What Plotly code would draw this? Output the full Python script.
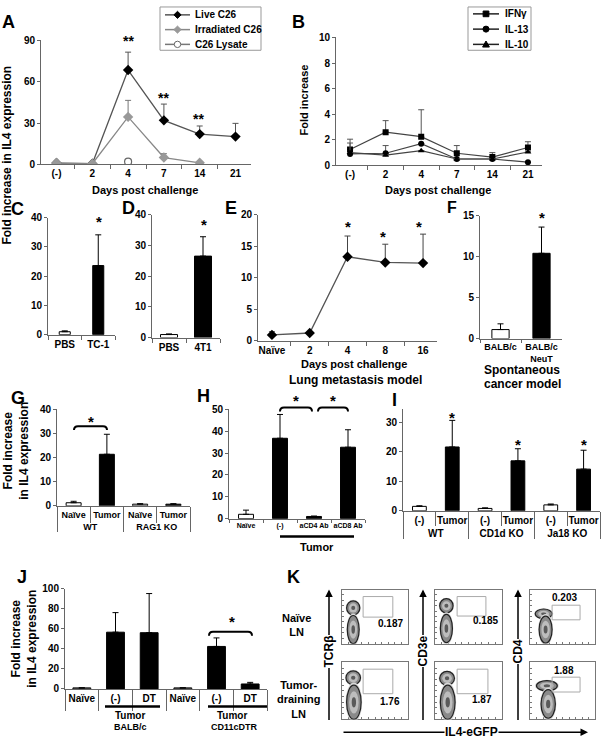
import plotly.graph_objects as go

W, H = 606, 750

# ---------------- DATA ----------------
A_days = ["(-)", "2", "4", "7", "14", "21"]
A_live = [1.0, 0.5, 68.5, 32.0, 22.0, 20.2]
A_live_err = [0, 0, 13.0, 11.8, 5.9, 9.6]
A_irr = [1.0, 0.5, 34.5, 5.0, 1.2, None]
A_irr_err = [0, 0, 12.0, 2.8, 0, 0]
A_lys = [None, None, 2.0, None, None, None]
A_series = ["Live C26", "Irradiated C26", "C26 Lysate"]

B_days = ["(-)", "2", "4", "7", "14", "21"]
B_ifng = [1.25, 2.6, 2.25, 0.95, 0.65, 1.4]
B_ifng_err = [0.8, 0.9, 2.1, 0.6, 0.35, 0.45]
B_il13 = [0.9, 0.95, 1.7, 0.5, 0.5, 0.25]
B_il13_err = [0.85, 0.6, 0.0, 0.0, 0.0, 0.0]
B_il10 = [1.0, 0.8, 1.15, 0.5, 0.5, 1.05]
B_il10_err = [0.0, 0.0, 0.0, 0.0, 0.0, 0.0]
B_series = ["IFNγ", "IL-13", "IL-10"]

C_groups = ["PBS", "TC-1"]
C_vals = [1.0, 23.6]
C_err = [0.3, 10.5]

D_groups = ["PBS", "4T1"]
D_vals = [1.0, 26.5]
D_err = [0.2, 6.3]

E_days = ["Naïve", "2", "4", "8", "16"]
E_vals = [0.9, 1.2, 13.3, 12.4, 12.3]
E_err = [0.5, 0.1, 3.3, 2.9, 4.6]

F_groups = ["BALB/c", "BALB/c<br>NeuT"]
F_vals = [1.1, 10.4]
F_err = [0.7, 3.2]

G_strain = ["WT", "WT", "RAG1 KO", "RAG1 KO"]
G_cond = ["Naïve", "Tumor", "Naïve", "Tumor"]
G_vals = [1.3, 21.4, 0.7, 0.7]
G_err = [0.6, 8.3, 0.2, 0.2]

H_groups = ["Naïve", "(-)", "aCD4 Ab", "aCD8 Ab"]
H_vals = [2.0, 36.8, 1.0, 32.7]
H_err = [1.9, 10.9, 0.2, 8.0]

I_strain = ["WT", "WT", "CD1d KO", "CD1d KO", "Ja18 KO", "Ja18 KO"]
I_cond = ["(-)", "Tumor", "(-)", "Tumor", "(-)", "Tumor"]
I_vals = [1.5, 21.6, 0.8, 16.9, 2.0, 14.1]
I_err = [0.2, 9.0, 0.2, 4.1, 0.3, 6.4]

J_labels = ["Naïve", "(-)", "DT", "Naïve", "(-)", "DT"]
J_vals = [1.0, 56.5, 56.0, 1.0, 42.3, 4.9]
J_err = [0.0, 19.5, 39.0, 0.0, 8.5, 1.6]

K_rows = ["Naïve<br>LN", "Tumor-<br>draining<br>LN"]
K_markers = ["TCRβ", "CD3e", "CD4"]
K_pct = [["0.187", "0.185", "0.203"], ["1.76", "1.87", "1.88"]]

# ---------------- HELPERS ----------------
def X(px):
    return px / W

def Y(py):
    return 1 - py / H

def dx(a, b):
    return [X(a), X(b)]

def dy(top, bot):
    return [Y(bot), Y(top)]

FONT = "Liberation Sans, Arial, sans-serif"
TF = dict(family=FONT, size=10, color="black", weight="bold")
AX = "#666"

def xcat(dom, anchor, size=10, ticklen=4):
    return dict(domain=dom, anchor=anchor, type="category", tickson="boundaries",
                ticks="outside", ticklen=ticklen, tickcolor=AX, showline=True, linecolor=AX,
                showgrid=False, zeroline=False, tickfont=dict(TF, size=size), tickangle=0,
                fixedrange=True)

def ylin(dom, anchor, rng, dtick, show_labels=True):
    return dict(domain=dom, anchor=anchor, range=rng, dtick=dtick, tick0=0,
                ticks="outside", ticklen=3, tickcolor=AX, showline=True, linecolor=AX,
                showgrid=False, zeroline=False, tickfont=TF, showticklabels=show_labels,
                fixedrange=True)

def err(arr, color="black"):
    return dict(type="data", symmetric=False, array=arr, arrayminus=[0] * len(arr),
                color=color, thickness=1, width=3)

fig = go.Figure()
ann = []
shapes = []

def text(t, px, py, size=11, bold=True, angle=0, xanchor="center", yanchor="middle", bg=None):
    d = dict(text=("<b>%s</b>" % t) if bold else t, x=X(px), y=Y(py), xref="paper",
             yref="paper", showarrow=False, textangle=angle, xanchor=xanchor,
             yanchor=yanchor, font=dict(family=FONT, size=size, color="black"))
    if bg:
        d["bgcolor"] = bg
        d["borderpad"] = 0
    ann.append(d)

def star(t, px, py, size=15):
    text(t, px, py + 3, size=size)

def bracket(x0, x1, y, h=4):
    shapes.append(dict(type="path", xref="paper", yref="paper",
                       path="M %f,%f Q %f,%f %f,%f L %f,%f Q %f,%f %f,%f" % (
                           X(x0), Y(y + h), X(x0), Y(y), X(x0 + 4), Y(y),
                           X(x1 - 4), Y(y), X(x1), Y(y), X(x1), Y(y + h)),
                       line=dict(color="black", width=2)))

def hline(x0, x1, y, w=2, color="black"):
    shapes.append(dict(type="line", xref="paper", yref="paper", x0=X(x0), x1=X(x1),
                       y0=Y(y), y1=Y(y), line=dict(color=color, width=w)))

def rect(x0, y0, x1, y1, color="#999"):
    shapes.append(dict(type="rect", xref="paper", yref="paper", x0=X(x0), x1=X(x1),
                       y0=Y(y1), y1=Y(y0), line=dict(color=color, width=1),
                       fillcolor="white"))

def marker(kind, cx, cy, fill, edge, r=3.6):
    if kind == "diamond":
        p = "M %f,%f L %f,%f L %f,%f L %f,%f Z" % (X(cx), Y(cy - r), X(cx + r), Y(cy),
                                                   X(cx), Y(cy + r), X(cx - r), Y(cy))
        shapes.append(dict(type="path", xref="paper", yref="paper", path=p,
                           fillcolor=fill, line=dict(color=edge, width=1)))
    elif kind == "square":
        r = r * 0.85
        shapes.append(dict(type="rect", xref="paper", yref="paper", x0=X(cx - r), x1=X(cx + r),
                           y0=Y(cy + r), y1=Y(cy - r), fillcolor=fill, line=dict(color=edge, width=1)))
    elif kind == "circle":
        r = r * 0.9
        shapes.append(dict(type="circle", xref="paper", yref="paper", x0=X(cx - r), x1=X(cx + r),
                           y0=Y(cy + r), y1=Y(cy - r), fillcolor=fill, line=dict(color=edge, width=1)))
    elif kind == "triangle":
        p = "M %f,%f L %f,%f L %f,%f Z" % (X(cx), Y(cy - r), X(cx + r), Y(cy + r * 0.8),
                                           X(cx - r), Y(cy + r * 0.8))
        shapes.append(dict(type="path", xref="paper", yref="paper", path=p,
                           fillcolor=fill, line=dict(color=edge, width=1)))

layout = {}

# ---------------- PANEL A ----------------
fig.add_trace(go.Scatter(x=A_days, y=A_live, mode="lines+markers", name=A_series[0],
                         line=dict(color="#555", width=1.3),
                         marker=dict(symbol="diamond", size=8, color="black"),
                         error_y=err(A_live_err, "#555"), xaxis="x", yaxis="y", showlegend=False))
fig.add_trace(go.Scatter(x=A_days, y=A_irr, mode="lines+markers", name=A_series[1],
                         line=dict(color="#888", width=1.3),
                         marker=dict(symbol="diamond", size=8, color="#999"),
                         error_y=err(A_irr_err, "#777"), xaxis="x", yaxis="y", showlegend=False))
fig.add_trace(go.Scatter(x=A_days, y=A_lys, mode="lines+markers", name=A_series[2],
                         line=dict(color="#777", width=1.3),
                         marker=dict(symbol="circle", size=7, color="white",
                                     line=dict(color="#666", width=1.2)),
                         xaxis="x", yaxis="y", showlegend=False))
layout["xaxis"] = xcat(dx(41, 251), "y")
layout["yaxis"] = ylin(dy(35, 161), "x", [0, 90], 30)
text("Fold increase in IL4 expression", 7, 152, size=12, angle=-90)
text("Days post challenge", 145, 187, size=11)
text("A", 8, 16, size=18)
for xx, yy in [(128, 33), (163, 90), (198, 112)]:
    star("**", xx, yy, size=14)
rect(160, 1, 261, 45)
A_leg = [("diamond", "black", "black", "#555"), ("diamond", "#999", "#999", "#888"),
         ("circle", "white", "#666", "#777")]
for i, (kind, fill, edge, lc) in enumerate(A_leg):
    yy = 9 + 15 * i
    hline(165, 190, yy, 1.5, lc)
    marker(kind, 177.5, yy, fill, edge)
    text(A_series[i], 193, yy, size=10, xanchor="left")

# ---------------- PANEL B ----------------
B_sym = ["square", "circle", "triangle-up"]
for name, vals, e, sym in zip(B_series, [B_ifng, B_il13, B_il10],
                              [B_ifng_err, B_il13_err, B_il10_err], B_sym):
    fig.add_trace(go.Scatter(x=B_days, y=vals, mode="lines+markers", name=name,
                             line=dict(color="#444", width=1.2),
                             marker=dict(symbol=sym, size=6, color="black"),
                             error_y=err(e, "#555"), xaxis="x2", yaxis="y2", showlegend=False))
layout["xaxis2"] = xcat(dx(336, 542), "y2")
layout["yaxis2"] = ylin(dy(32, 162), "x2", [0, 10], 2)
text("Fold increase", 304, 96, size=11, angle=-90)
text("Days post challenge", 438, 187, size=11)
text("B", 298, 16, size=18)
rect(468, 1, 531, 45)
for i, kind in enumerate(["square", "circle", "triangle"]):
    yy = 8 + 15.5 * i
    hline(473, 499, yy, 1.5, "#222")
    marker(kind, 486, yy, "black", "black", r=3.4)
    text(B_series[i], 503, yy, size=10, xanchor="left")

# ---------------- PANEL C ----------------
fig.add_trace(go.Bar(x=C_groups, y=C_vals, width=0.33, marker=dict(color=["white", "black"],
                     line=dict(color="black", width=1)), error_y=err(C_err),
                     xaxis="x3", yaxis="y3", showlegend=False))
layout["xaxis3"] = xcat(dx(48, 115), "y3")
layout["yaxis3"] = ylin(dy(215, 334), "x3", [0, 40], 10)
text("C", 17, 206, size=18)
star("*", 99, 216)

# ---------------- PANEL D ----------------
fig.add_trace(go.Bar(x=D_groups, y=D_vals, width=0.5, marker=dict(color=["white", "black"],
                     line=dict(color="black", width=1)), error_y=err(D_err),
                     xaxis="x4", yaxis="y4", showlegend=False))
layout["xaxis4"] = xcat(dx(152, 220), "y4")
layout["yaxis4"] = ylin(dy(212, 337), "x4", [0, 40], 10)
text("D", 128, 205, size=18)
star("*", 204, 219)

# ---------------- PANEL E ----------------
fig.add_trace(go.Scatter(x=E_days, y=E_vals, mode="lines+markers",
                         line=dict(color="#555", width=1.3),
                         marker=dict(symbol="diamond", size=8, color="black"),
                         error_y=err(E_err, "#444"), xaxis="x5", yaxis="y5", showlegend=False))
layout["xaxis5"] = xcat(dx(258, 437), "y5")
layout["yaxis5"] = ylin(dy(212, 340), "x5", [0, 20], 5)
text("E", 231, 205, size=18)
text("Days post challenge", 354, 364, size=11)
text("Lung metastasis model", 355, 380, size=12)
for xx, yy in [(348, 221), (383, 231), (419, 221)]:
    star("*", xx, yy)

# ---------------- PANEL F ----------------
fig.add_trace(go.Bar(x=F_groups, y=F_vals, width=0.42, marker=dict(color=["white", "black"],
                     line=dict(color="black", width=1)), error_y=err(F_err),
                     xaxis="x6", yaxis="y6", showlegend=False))
layout["xaxis6"] = xcat(dx(480, 562), "y6", size=9, ticklen=3)
layout["yaxis6"] = ylin(dy(213, 338), "x6", [0, 15], 5)
text("F", 452, 205, size=16)
text("Spontaneous", 522, 370, size=12)
text("cancer model", 522, 384, size=12)
star("*", 542, 212)

# ---------------- PANEL G ----------------
fig.add_trace(go.Bar(x=[G_strain, G_cond], y=G_vals, width=0.45,
                     marker=dict(color=["white", "black", "white", "black"],
                                 line=dict(color="black", width=1)), error_y=err(G_err),
                     xaxis="x7", yaxis="y7", showlegend=False))
layout["xaxis7"] = dict(xcat(dx(57, 190), "y7", size=9, ticklen=16), type="multicategory",
                        dividercolor=AX, dividerwidth=1)
layout["yaxis7"] = ylin(dy(410, 508), "x7", [0, 40], 10)
text("Fold increase<br>in IL4 expression", 16, 452, size=12, angle=-90)
text("G", 18, 398, size=18)
bracket(74, 107, 427)
star("*", 91, 419)

# ---------------- PANEL H ----------------
fig.add_trace(go.Bar(x=H_groups, y=H_vals, width=0.44,
                     marker=dict(color=["white", "black", "black", "black"],
                                 line=dict(color="black", width=1)), error_y=err(H_err),
                     xaxis="x8", yaxis="y8", showlegend=False))
layout["xaxis8"] = xcat(dx(229, 365), "y8", size=7, ticklen=3)
layout["yaxis8"] = ylin(dy(410, 521), "x8", [0, 50], 10)
text("H", 203, 396, size=18)
bracket(280, 312, 408)
bracket(318, 348, 408)
star("*", 296, 398)
star("*", 333, 398)
hline(280, 354, 539, 2.5)
text("Tumor", 317, 550, size=11)

# ---------------- PANEL I ----------------
I_left, I_right = 403, 600
fig.add_trace(go.Bar(x=[I_strain, I_cond], y=I_vals, width=0.42,
                     marker=dict(color=["white", "black"] * 3,
                                 line=dict(color="black", width=1)), error_y=err(I_err),
                     xaxis="x9", yaxis="y9", showlegend=False))
layout["xaxis9"] = dict(xcat(dx(I_left, I_right), "y9", size=10, ticklen=14), type="multicategory",
                        dividercolor=AX, dividerwidth=1)
layout["yaxis9"] = ylin(dy(410, 513), "x9", [0, 34.3], 10)
text("I", 394, 400, size=18)
I_step = (I_right - I_left) / len(I_vals)
for k, yy in [(1, 415), (3, 443), (5, 443)]:
    star("*", I_left + I_step * (k + 0.5), yy)

# ---------------- PANEL J ----------------
fig.add_trace(go.Bar(x=list(range(len(J_vals))), y=J_vals, width=0.53,
                     marker=dict(color=["#ddd", "black", "black", "#ddd", "black", "black"],
                                 line=dict(color="black", width=1)), error_y=err(J_err),
                     xaxis="x10", yaxis="y10", showlegend=False))
layout["xaxis10"] = dict(domain=dx(65, 267), anchor="y10", range=[-0.5, len(J_vals) - 0.5],
                         tickmode="array", tickvals=list(range(len(J_vals))), ticktext=J_labels,
                         ticks="", showline=True, linecolor=AX, showgrid=False, zeroline=False,
                         tickfont=TF, tickangle=0,
                         minor=dict(tickmode="array",
                                    tickvals=[i - 0.5 for i in range(len(J_vals) + 1)],
                                    ticks="outside", ticklen=21, tickcolor=AX),
                         fixedrange=True)
layout["yaxis10"] = ylin(dy(592, 694), "x10", [0, 100], 20)
text("Fold increase<br>in IL4 expression", 24, 643, size=12, angle=-90)
text("J", 22, 580, size=18)
hline(105, 160, 712, 2.5)
hline(208, 267, 712, 2.5)
text("Tumor", 130, 721, size=10)
text("Tumor", 232, 721, size=10)
text("BALB/c", 130, 733, size=9)
text("CD11cDTR", 235, 733, size=9)
bracket(209, 252, 636)
star("*", 232, 622)

# ---------------- PANEL K ----------------
K_cols = [(342, 408), (435, 502), (530, 595)]
K_rowpx = [(593, 648), (667, 725)]
K_gates = [[(0.32, 0.77, 0.49, 0.87), (0.33, 0.76, 0.51, 0.87), (0.34, 0.77, 0.44, 0.71)],
           [(0.32, 0.77, 0.45, 0.88), (0.33, 0.79, 0.45, 0.88), (0.34, 0.77, 0.48, 0.74)]]
K_txt = [[(0.73, 0.38), (0.76, 0.42), (0.53, 0.86)],
         [(0.72, 0.32), (0.70, 0.34), (0.53, 0.86)]]
K_pops = [[[(0.17, 0.66, 0.10, 0.13), (0.17, 0.26, 0.09, 0.26)],
           [(0.17, 0.70, 0.10, 0.13), (0.17, 0.28, 0.09, 0.26)],
           [(0.21, 0.55, 0.13, 0.09), (0.24, 0.26, 0.10, 0.25)]],
          [[(0.17, 0.73, 0.11, 0.12), (0.18, 0.30, 0.11, 0.30)],
           [(0.18, 0.72, 0.11, 0.12), (0.19, 0.30, 0.11, 0.30)],
           [(0.26, 0.59, 0.16, 0.09), (0.28, 0.27, 0.11, 0.25)]]]
n = 11
for r in range(2):
    for c in range(3):
        xa, ya = "x%d" % n, "y%d" % n
        fig.add_trace(go.Scatter(x=[None], y=[None], xaxis=xa, yaxis=ya, showlegend=False))
        layout["xaxis%d" % n] = dict(domain=dx(*K_cols[c]), anchor=ya, range=[0, 1],
                                     showline=True, mirror=True, linecolor="#777",
                                     ticks="inside", ticklen=2, tickcolor="#777", dtick=0.1,
                                     showticklabels=False, showgrid=False, zeroline=False,
                                     fixedrange=True)
        layout["yaxis%d" % n] = dict(domain=dy(*K_rowpx[r]), anchor=xa, range=[0, 1],
                                     showline=True, mirror=True, linecolor="#777",
                                     ticks="inside", ticklen=2, tickcolor="#777", dtick=0.1,
                                     showticklabels=False, showgrid=False, zeroline=False,
                                     fixedrange=True)
        for (cx, cy, rx, ry) in K_pops[r][c]:
            for f, col, lc in [(1.15, "#d8d8d8", None), (1.0, "#8a8a8a", "#222"),
                               (0.65, "#bdbdbd", None), (0.3, "#5a5a5a", None)]:
                shapes.append(dict(type="circle", xref=xa, yref=ya,
                                   x0=cx - rx * f, x1=cx + rx * f, y0=cy - ry * f, y1=cy + ry * f,
                                   fillcolor=col,
                                   line=dict(color=lc or col, width=1.2 if lc else 0)))
        g = K_gates[r][c]
        shapes.append(dict(type="rect", xref=xa, yref=ya, x0=g[0], x1=g[1], y0=g[2], y1=g[3],
                           line=dict(color="#aaa", width=1)))
        tx, ty = K_txt[r][c]
        ann.append(dict(text="<b>%s</b>" % K_pct[r][c], x=tx, y=ty, xref=xa, yref=ya,
                        showarrow=False, font=dict(family=FONT, size=10, color="black")))
        n += 1

text("K", 293, 580, size=18)
text(K_rows[0], 296, 629, size=11)
text(K_rows[1], 298, 705, size=11)
for xpx, lab in zip([329, 423, 518], K_markers):
    ann.append(dict(x=X(xpx), y=Y(593), ax=0, ay=132, xref="paper", yref="paper",
                    showarrow=True, arrowhead=2, arrowsize=1, arrowwidth=1.5,
                    arrowcolor="black", text=""))
    text(lab, xpx, 656, size=12, angle=-90, bg="white")
ann.append(dict(x=X(588), y=Y(738), ax=-246, ay=0, xref="paper", yref="paper",
                showarrow=True, arrowhead=2, arrowsize=1, arrowwidth=1.5,
                arrowcolor="black", text=""))
text("IL4-eGFP", 471, 738, size=12, bg="white")

# ---------------- LAYOUT ----------------
layout.update(dict(
    width=W, height=H, margin=dict(l=0, r=0, t=0, b=0),
    paper_bgcolor="white", plot_bgcolor="rgba(0,0,0,0)",
    font=dict(family=FONT, size=10, color="black"),
    showlegend=False,
    annotations=ann, shapes=shapes,
))
fig.update_layout(**layout)
fig.write_html("out.html", config={"displayModeBar": False, "staticPlot": True},
               post_script="document.body.style.margin='0';document.body.style.overflow='hidden';")
